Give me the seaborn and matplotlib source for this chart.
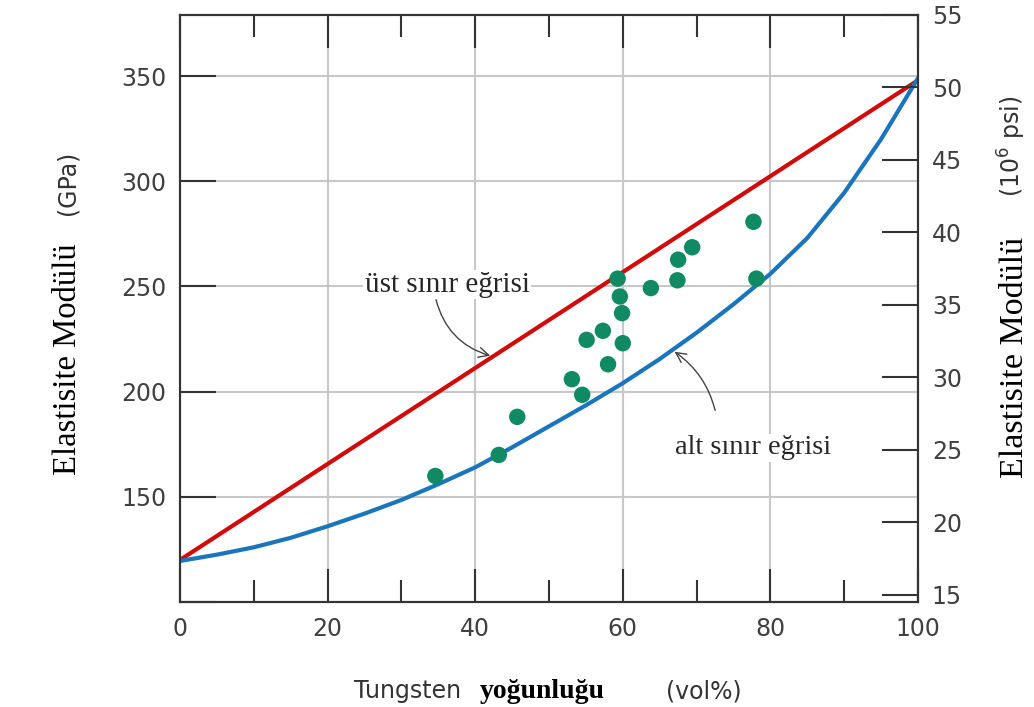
import numpy as np
import pandas as pd
import matplotlib
matplotlib.use("Agg")
import matplotlib.pyplot as plt
import seaborn as sns

# Data
vol_bound = [0, 5, 10, 15, 20, 25, 30, 35, 40, 45, 50, 55, 60, 65, 70, 75, 80, 85, 90, 95, 100]
lower_bound = [119.5, 122.5, 126, 130.5, 136, 142, 148.5, 156, 164, 173.5, 183.5, 193.5, 204,
               215.5, 228, 241.5, 256, 273, 294.5, 320, 349]
upper_x = [0, 100]
upper_bound = [120, 348]

meas_vol = [34.6, 43.2, 45.7, 53.1, 54.5, 55.1, 57.3, 58.0, 59.3, 59.6, 59.9, 60.0,
            63.8, 67.4, 67.5, 69.4, 77.7, 78.1]
meas_mod = [159.9, 169.9, 188.0, 205.9, 198.5, 224.6, 228.9, 213.0, 253.7, 245.2, 237.3, 223.0,
            249.2, 252.9, 262.7, 268.6, 280.7, 253.7]

gpa_ticks = [100, 150, 200, 250, 300, 350]
gpa_labels = ["", "150", "200", "250", "300", "350"]
psi_ticks = [15, 20, 25, 30, 35, 40, 45, 50, 55]
GPA_TO_PSI = 0.145038

RED = "#d10a0a"
BLUE = "#1a75bd"
GREEN = "#0f8a63"
DARK = "#333333"
SANS = "DejaVu Sans"
SERIF = "Liberation Serif"

sns.set_style("white")
plt.rcParams['font.family'] = [SANS]

df_low = pd.DataFrame({"vol": vol_bound, "E": lower_bound})
df_up = pd.DataFrame({"vol": upper_x, "E": upper_bound})
df_pts = pd.DataFrame({"vol": meas_vol, "E": meas_mod})

W, H = 1034, 707
fig = plt.figure(figsize=(W / 100, H / 100), dpi=100)
ax = fig.add_axes([180 / W, 1 - 602 / H, 738 / W, 587 / H])

sns.lineplot(data=df_up, x="vol", y="E", color=RED, lw=3, ax=ax, sort=False, estimator=None, zorder=3)
sns.lineplot(data=df_low, x="vol", y="E", color=BLUE, lw=3, ax=ax, sort=False, estimator=None, zorder=3)
sns.scatterplot(data=df_pts, x="vol", y="E", color=GREEN, s=140, edgecolor="none", ax=ax, zorder=4)

ax.set_xlim(0, 100)
ax.set_ylim(100, 379)
ax.set_xticks(range(0, 101, 20))
ax.set_xticks(range(10, 100, 20), minor=True)
ax.set_yticks(gpa_ticks)
ax.set_yticklabels(gpa_labels)
ax.set_xlabel("")
ax.set_ylabel("")
ax.grid(True, which="major", color="#c8c8c8", lw=1.5, zorder=0)
ax.set_axisbelow(True)

ax.tick_params(axis="x", which="major", direction="in", length=24, width=1.5, color=DARK,
               top=True, bottom=True, labelsize=17, labelcolor="#404040", pad=11)
ax.tick_params(axis="x", which="minor", direction="in", length=16, width=1.5, color=DARK,
               top=True, bottom=True)
ax.tick_params(axis="y", which="major", direction="in", length=26, width=1.5, color=DARK,
               left=True, right=False, labelsize=17, labelcolor="#404040", pad=10)
for s in ax.spines.values():
    s.set_color(DARK)
    s.set_linewidth(1.5)

# right axis in 10^6 psi
ax2 = ax.twinx()
ax2.set_ylim(100 * GPA_TO_PSI, 379 * GPA_TO_PSI)
ax2.set_yticks(psi_ticks)
ax2.tick_params(axis="y", direction="in", length=26, width=1.5, color=DARK,
                labelsize=17, labelcolor="#404040", pad=10)
for s in ax2.spines.values():
    s.set_color(DARK)
    s.set_linewidth(1.5)

# bound annotations
box = dict(boxstyle="square,pad=0.05", fc="white", ec="none")
ax.text(36.2, 250.8, "üst sınır eğrisi", family=SERIF, fontsize=21, ha="center", va="center",
        bbox=box, zorder=5)
ax.annotate("", xy=(42.4, 216.7), xytext=(34.6, 245),
            arrowprops=dict(arrowstyle="->", color="#444444", lw=1, mutation_scale=18,
                            connectionstyle="arc3,rad=0.3"), zorder=5)
ax.text(77.6, 173.2, "alt sınır eğrisi", family=SERIF, fontsize=20.5, ha="center", va="center",
        bbox=box, zorder=5)
ax.annotate("", xy=(66.7, 219.7), xytext=(72.6, 189.8),
            arrowprops=dict(arrowstyle="->", color="#444444", lw=1, mutation_scale=18,
                            connectionstyle="arc3,rad=0.2"), zorder=5)

# axis titles, mixed fonts as in the original
def fx(px):
    return px / W

def fy(py):
    return 1 - py / H

fig.text(fx(68), fy(359), "Elastisite Modülü", family=SERIF, fontsize=23.5, rotation=90,
         ha="center", va="center", color="black")
fig.text(fx(68), fy(183), "(GPa)", family=SANS, fontsize=17, rotation=90,
         ha="center", va="center", color=DARK)
fig.text(fx(1015), fy(357), "Elastisite Modülü", family=SERIF, fontsize=24.5, rotation=90,
         ha="center", va="center", color="black")
fig.text(fx(1012), fy(146), "(10$^6$ psi)", family=SANS, fontsize=17, rotation=90,
         ha="center", va="center", color=DARK)

fig.text(fx(408), fy(698), "Tungsten", family=SANS, fontsize=17, ha="center", va="baseline", color=DARK)
fig.text(fx(542), fy(698), "yoğunluğu", family=SERIF, fontsize=20, weight="bold",
         ha="center", va="baseline", color="black")
fig.text(fx(704), fy(698), "(vol%)", family=SANS, fontsize=17, ha="center", va="baseline", color=DARK)

fig.savefig("out.png", dpi=100, facecolor="white")
